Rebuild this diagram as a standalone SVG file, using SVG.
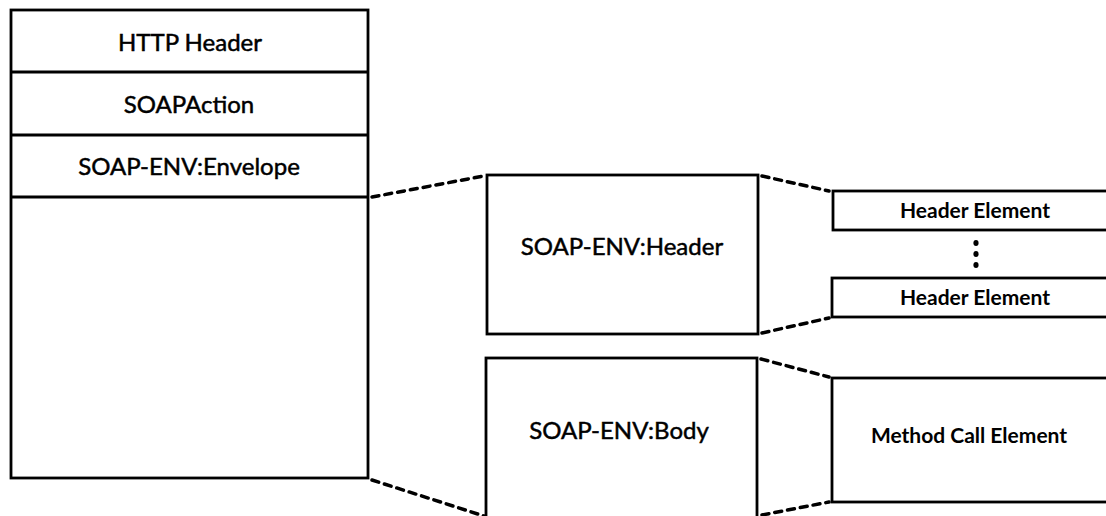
<svg xmlns="http://www.w3.org/2000/svg" width="1106" height="516" viewBox="0 0 1106 516">
  <style>
    .box { fill: #fff; stroke: #000; stroke-width: 2.8; }
    .div { stroke: #000; stroke-width: 2.8; }
    .dash { fill: none; stroke: #000; stroke-width: 3.5; stroke-dasharray: 7 6; stroke-linecap: round; }
    .lbl { font-family: Lato, "Liberation Sans", sans-serif; font-size: 24px; fill: #000; stroke: #000; stroke-width: 0.5; text-anchor: middle; }
    .sm { font-family: Lato, "Liberation Sans", sans-serif; font-size: 21px; font-weight: bold; fill: #000; text-anchor: middle; }
  </style>
  <rect width="1106" height="516" fill="#fff"/>

  <!-- HTTP message stack -->
  <g id="http-message">
    <rect class="box" x="11" y="10" width="357" height="468"/>
    <line class="div" x1="11" y1="72" x2="368" y2="72"/>
    <line class="div" x1="11" y1="135" x2="368" y2="135"/>
    <line class="div" x1="11" y1="197" x2="368" y2="197"/>
    <text class="lbl" x="190" y="51">HTTP Header</text>
    <text class="lbl" x="189" y="113">SOAPAction</text>
    <text class="lbl" x="189" y="175">SOAP-ENV:Envelope</text>
  </g>

  <g id="soap-header">
    <rect class="box" x="487" y="175" width="271" height="159"/>
    <text class="lbl" x="622" y="255">SOAP-ENV:Header</text>
  </g>

  <g id="soap-body">
    <rect class="box" x="486" y="358" width="271" height="170"/>
    <text class="lbl" x="619" y="439">SOAP-ENV:Body</text>
  </g>

  <g id="header-element-1">
    <rect class="box" x="833" y="191" width="290" height="39"/>
    <text class="sm" x="975" y="218">Header Element</text>
  </g>

  <g id="ellipsis">
    <ellipse cx="976" cy="243" rx="2.6" ry="3"/>
    <ellipse cx="976" cy="254" rx="2.6" ry="3"/>
    <ellipse cx="976" cy="265" rx="2.6" ry="3"/>
  </g>

  <g id="header-element-2">
    <rect class="box" x="832" y="278" width="290" height="39"/>
    <text class="sm" x="975" y="305">Header Element</text>
  </g>

  <g id="method-call-element">
    <rect class="box" x="832" y="378" width="290" height="124"/>
    <text class="sm" x="969" y="443">Method Call Element</text>
  </g>

  <!-- zoom-out connectors -->
  <g id="connectors">
    <line class="dash" x1="372" y1="197" x2="484" y2="176"/>
    <line class="dash" x1="372" y1="480" x2="484" y2="516"/>
    <line class="dash" x1="762" y1="176" x2="829" y2="191"/>
    <line class="dash" x1="762" y1="333" x2="829" y2="318"/>
    <line class="dash" x1="761" y1="359" x2="829" y2="377"/>
    <line class="dash" x1="762" y1="515" x2="829" y2="502"/>
  </g>
</svg>
